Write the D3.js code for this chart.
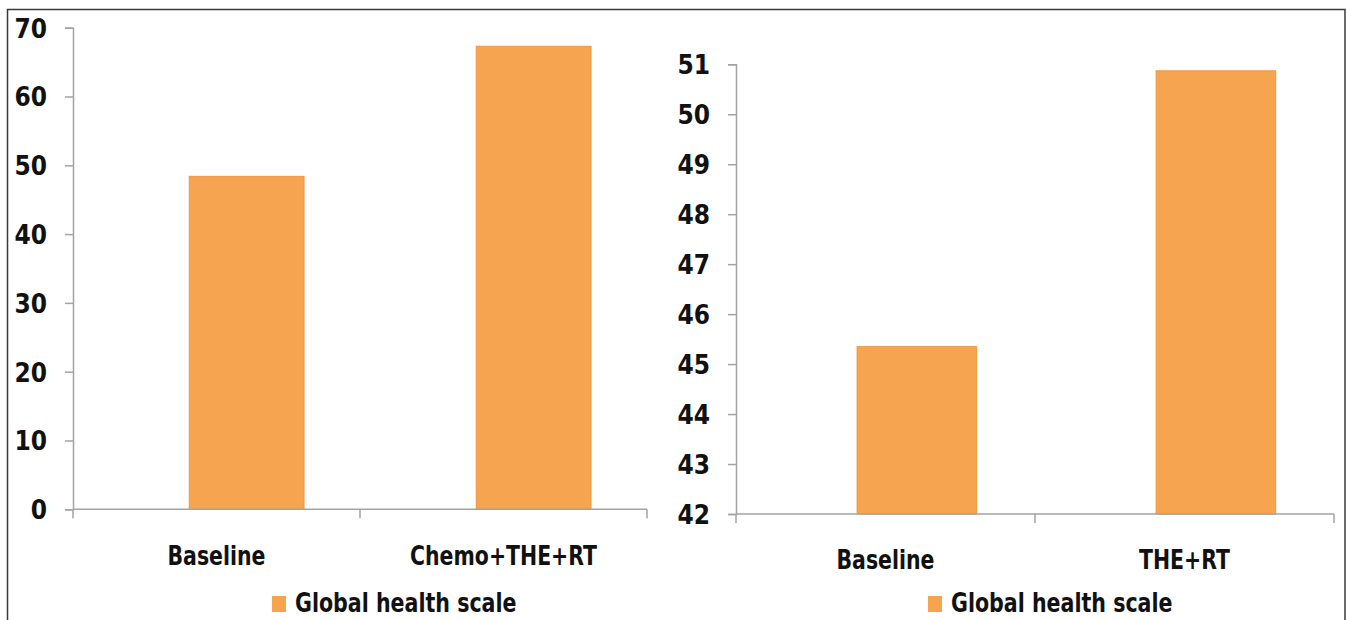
<!DOCTYPE html>
<html>
<head>
<meta charset="utf-8">
<script src="https://cdn.jsdelivr.net/npm/d3@7/dist/d3.min.js"></script>
<style>
  html, body { margin: 0; padding: 0; background: #fff; }
  svg { display: block; }
  text { font-family: "Liberation Sans Narrow", "Arial Narrow", "DejaVu Sans Condensed", sans-serif; font-weight: bold; fill: #111; }
</style>
</head>
<body>
<svg id="chart" width="1346" height="620"></svg>
<script>
// Global health scale — two panels
const leftCategories = ["Baseline", "Chemo+THE+RT"];
const leftValues = [48.4, 67.3];
const leftTicks = [0, 10, 20, 30, 40, 50, 60, 70];

const rightCategories = ["Baseline", "THE+RT"];
const rightValues = [45.35, 50.87];
const rightTicks = [42, 43, 44, 45, 46, 47, 48, 49, 50, 51];

const seriesName = "Global health scale";

const BAR_FILL = "#F6A44F";
const BAR_EDGE = "#EE9742";
const AXIS = "#A3A3A3";

const svg = d3.select("#chart");

// outer frame
svg.append("path")
  .attr("d", "M7.5,620 L7.5,9.5 L1345,9.5 L1345,620")
  .attr("fill", "none")
  .attr("stroke", "#3a3a3a")
  .attr("stroke-width", 1.5);

// squeeze a label horizontally so the bold face reads condensed
function condense(sel, k) {
  sel.each(function () {
    const w = this.getComputedTextLength();
    d3.select(this).attr("textLength", w * k).attr("lengthAdjust", "spacingAndGlyphs");
  });
}

function panel(cfg) {
  const g = svg.append("g");
  const x = d3.scaleBand().domain(cfg.categories).range([cfg.x0, cfg.x1]).padding(0);
  const y = d3.scaleLinear().domain([cfg.ticks[0], cfg.ticks[cfg.ticks.length - 1]]).range([cfg.y0, cfg.y1]);

  // bars
  g.selectAll("rect.bar")
    .data(cfg.values)
    .join("rect")
    .attr("class", "bar")
    .attr("x", (d, i) => x(cfg.categories[i]) + x.bandwidth() * 0.405)
    .attr("width", x.bandwidth() * 0.40)
    .attr("y", d => y(d))
    .attr("height", d => y(cfg.ticks[0]) - y(d))
    .attr("fill", BAR_FILL)
    .attr("stroke", BAR_EDGE)
    .attr("stroke-width", 1);

  // y axis
  const yAxis = g.append("g")
    .attr("transform", `translate(${cfg.x0},0)`)
    .call(d3.axisLeft(y).tickValues(cfg.ticks).tickSize(8).tickPadding(18).tickFormat(d3.format("d")));
  yAxis.select(".domain").attr("stroke", AXIS).attr("stroke-width", 1.5);
  yAxis.selectAll(".tick line").attr("stroke", AXIS).attr("stroke-width", 1.5);
  yAxis.selectAll(".tick text")
    .attr("font-size", 26)
    .attr("dy", "0.36em")
    .attr("font-family", null);

  // x axis: ticks at band boundaries, labels at band centres
  const xEdges = cfg.categories.map(c => x(c)).concat([cfg.x1]);
  g.append("line")
    .attr("x1", cfg.x0).attr("x2", cfg.x1)
    .attr("y1", y(cfg.ticks[0])).attr("y2", y(cfg.ticks[0]))
    .attr("stroke", AXIS).attr("stroke-width", 1.5);
  g.selectAll("line.xtick")
    .data(xEdges)
    .join("line")
    .attr("class", "xtick")
    .attr("x1", d => d).attr("x2", d => d)
    .attr("y1", y(cfg.ticks[0])).attr("y2", y(cfg.ticks[0]) + 9)
    .attr("stroke", AXIS).attr("stroke-width", 1.5);
  g.selectAll("text.xlabel")
    .data(cfg.categories)
    .join("text")
    .attr("class", "xlabel")
    .attr("x", d => x(d) + x.bandwidth() / 2)
    .attr("y", cfg.labelY)
    .attr("text-anchor", "middle")
    .attr("font-size", 26)
    .text(d => d)
    .call(condense, 0.875);

  // legend
  const lg = g.append("g").attr("transform", `translate(${cfg.legendX},612)`);
  lg.append("rect")
    .attr("x", 0).attr("y", -16).attr("width", 14).attr("height", 16)
    .attr("fill", BAR_FILL);
  lg.append("text")
    .attr("x", 23).attr("y", 0)
    .attr("font-size", 26)
    .text(seriesName)
    .call(condense, 0.88);
}

panel({
  categories: leftCategories, values: leftValues, ticks: leftTicks,
  x0: 73, x1: 647, y0: 509.3, y1: 27.7, labelY: 565, legendX: 272
});
panel({
  categories: rightCategories, values: rightValues, ticks: rightTicks,
  x0: 736, x1: 1334, y0: 514, y1: 64.3, labelY: 569, legendX: 928
});
</script>
</body>
</html>
